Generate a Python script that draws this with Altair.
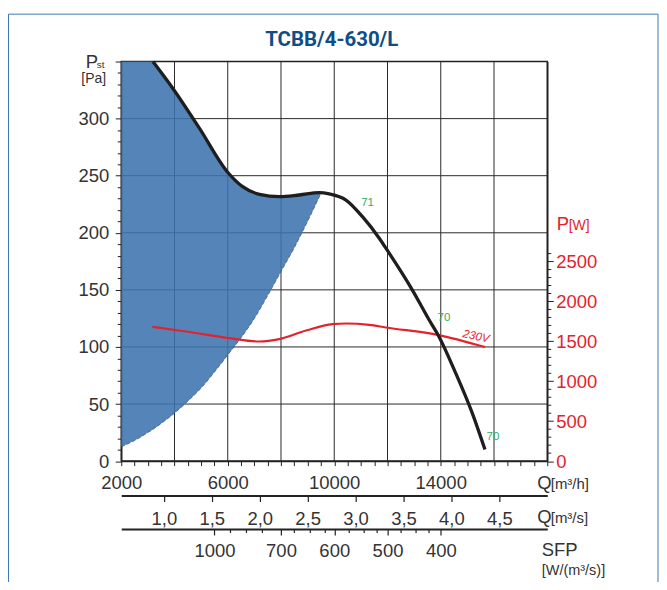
import altair as alt
import pandas as pd

# ---------------- data ----------------
# operating area (blue): Q [m3/h], upper and lower pressure bounds [Pa]
area_q = [2000, 2500, 3000, 3200, 3500, 4000, 4500, 5000, 5500, 6000, 6500, 7000, 7500, 8000, 8500, 9000, 9500]
area_top = [350, 350, 350, 350, 340.3, 324.5, 306.8, 289.5, 271, 252.8, 241.8, 235.7, 232.7, 231.6, 232.6, 234.2, 235]
area_bottom = [12.5, 18, 25, 28, 33, 42, 52.5, 64, 78, 93, 108, 125, 145, 166, 187, 210, 234.6]

# fan curve (black): Q [m3/h] -> static pressure [Pa]
fan_q = [3190, 3940, 4940, 5980, 6560, 7190, 7940, 8690, 9440, 9810, 10440, 11060, 11690, 11940,
         12930, 13560, 13930, 14560, 15180, 15660]
fan_p = [350, 326.4, 291.4, 253.5, 240.4, 233.7, 231.6, 233.1, 235.1, 234.0, 228.7, 214.1, 195.2, 186.5,
         150, 123.8, 109.2, 77.1, 42.2, 10.1]

# power curve (red): Q [m3/h] -> P [W]
pow_q = [3170, 4440, 6070, 7190, 7940, 8940, 9940, 10440, 11310, 11940, 13930, 15660]
pow_w = [1680, 1622, 1539, 1497, 1527, 1634, 1714, 1722, 1705, 1672, 1577, 1427]

# green sound labels on the fan curve
snd_text = ["71", "70", "70"]
snd_q = [11250, 14120, 15960]
snd_p = [225.8, 125.5, 21.4]

# voltage label on the power curve
volt_text = ["230V"]
volt_q = [15320]
volt_w = [1555]

# grid
grid_q = [4000, 6000, 8000, 10000, 12000, 14000, 16000]
grid_p = [50, 100, 150, 200, 250, 300]

# axes
q_ticks = list(range(2000, 18001, 500))
qs_values = [1.0, 1.5, 2.0, 2.5, 3.0, 3.5, 4.0, 4.5]          # m3/s
sfp_major_q = [5500, 8000, 10000, 12000, 14000]
sfp_major_lab = ["1000", "700", "600", "500", "400"]
sfp_minor_q = [6100, 6700, 7300, 8500, 9100, 9630, 10560, 11090, 11575, 12500, 13040, 13530]
p_ticks = list(range(0, 351, 10))
w_ticks = list(range(0, 2601, 100))

TITLE = "TCBB/4-630/L"

# ---------------- styling ----------------
FONT = "Liberation Sans"
TITLE_FONT = "Roboto, 'Liberation Sans', sans-serif"
DARK = "#333333"
RED = "#e3232b"
GREEN = "#2fae60"
BLUE_FILL = "#3e73ae"
TITLE_BLUE = "#0f4d87"
LINE_BLACK = "#1e1e1e"

X0 = 121.5   # page x of plot left
Y0 = 61.0    # page y of plot top

xscale = alt.Scale(domain=[2000, 18000], nice=False, zero=False)
yscale = alt.Scale(domain=[0, 350], nice=False, zero=True)
wscale = alt.Scale(domain=[0, 5000], nice=False, zero=True)

axis_common = dict(labelFont=FONT, labelFontSize=18.5, labelOverlap=False, labelFlush=False,
                   labelBound=False, grid=False, tickColor="#222", domainColor="#222", title=None)

axis_q = alt.Axis(orient="bottom", values=q_ticks, tickSize=4.5, domainWidth=1.5, labelPadding=8,
                  labelColor=DARK,
                  labelExpr="(datum.value - 2000) % 4000 == 0 && datum.value <= 14000 ? format(datum.value, 'd') : ''",
                  **axis_common)

axis_qs = alt.Axis(orient="bottom", offset=34.5, values=[v * 3600 for v in qs_values], tickSize=6,
                   domainWidth=2, tickWidth=1.2, labelPadding=8, labelColor=DARK,
                   labelExpr="replace(format(datum.value / 3600, '.1f'), '.', ',')",
                   **axis_common)

sfp_expr = " : ".join(f"datum.value == {q} ? '{l}'" for q, l in zip(sfp_major_q, sfp_major_lab)) + " : ''"
sfp_test = "indexof([" + ",".join(str(q) for q in sfp_major_q) + "], datum.value) >= 0"
axis_sfp = alt.Axis(orient="bottom", offset=68, values=sorted(sfp_major_q + sfp_minor_q),
                    tickSize={"condition": {"test": sfp_test, "value": 6}, "value": 3.5},
                    domainWidth=2, tickWidth=1.2, labelPadding=7, labelColor=DARK,
                    labelExpr=sfp_expr, **axis_common)

axis_p = alt.Axis(orient="left", values=p_ticks,
                  tickSize={"condition": {"test": "datum.value % 50 == 0", "value": 6}, "value": 4},
                  domainWidth=1.5, labelPadding=6.5, labelColor=DARK,
                  labelExpr="datum.value % 50 == 0 && datum.value <= 300 ? datum.value : ''",
                  **axis_common)

axis_w = alt.Axis(orient="right", values=w_ticks,
                  tickSize={"condition": {"test": "datum.value % 500 == 0", "value": 6}, "value": 3.5},
                  domainWidth=1.5, labelPadding=2.5, labelColor=RED,
                  labelExpr="datum.value % 500 == 0 ? datum.value : ''",
                  **axis_common)

# ---------------- layers ----------------
df_area = pd.DataFrame({"q": area_q, "top": area_top, "bottom": area_bottom})
df_fan = pd.DataFrame({"q": fan_q, "p": fan_p})
df_pow = pd.DataFrame({"q": pow_q, "w": pow_w})
df_snd = pd.DataFrame({"q": snd_q, "p": snd_p, "t": snd_text})
df_volt = pd.DataFrame({"q": volt_q, "w": volt_w, "t": volt_text})
df_gq = pd.DataFrame({"q": grid_q})
df_gp = pd.DataFrame({"p": grid_p})
one = pd.DataFrame({"a": [0]})

grid_v = alt.Chart(df_gq).mark_rule(color="#2a2a2a", strokeWidth=1).encode(
    x=alt.X("q:Q", scale=xscale, axis=axis_qs))
grid_h = alt.Chart(df_gp).mark_rule(color="#2a2a2a", strokeWidth=1).encode(
    y=alt.Y("p:Q", scale=yscale, axis=axis_p))

area = alt.Chart(df_area).mark_area(color=BLUE_FILL, opacity=0.88, interpolate="monotone").encode(
    x=alt.X("q:Q", scale=xscale, axis=axis_q),
    y=alt.Y("top:Q", scale=yscale, axis=None),
    y2="bottom:Q")

edge = alt.Chart(df_area).mark_line(color="#27466b", strokeWidth=0.8, strokeDash=[4, 2],
                                    interpolate="monotone", opacity=0.8).encode(
    x=alt.X("q:Q", scale=xscale, axis=None),
    y=alt.Y("bottom:Q", scale=yscale, axis=None))

power = alt.Chart(df_pow).mark_line(color=RED, strokeWidth=2.2, interpolate="monotone").encode(
    x=alt.X("q:Q", scale=xscale, axis=axis_sfp),
    y=alt.Y("w:Q", scale=wscale, axis=axis_w))

fan = alt.Chart(df_fan).mark_line(color=LINE_BLACK, strokeWidth=3.3, interpolate="monotone",
                                  strokeCap="butt").encode(
    x=alt.X("q:Q", scale=xscale, axis=None),
    y=alt.Y("p:Q", scale=yscale, axis=None))

snd = alt.Chart(df_snd).mark_text(color=GREEN, font=FONT, fontSize=11.5).encode(
    x=alt.X("q:Q", scale=xscale, axis=None),
    y=alt.Y("p:Q", scale=yscale, axis=None),
    text="t:N")

volt = alt.Chart(df_volt).mark_text(color=RED, font=FONT, fontSize=11.5, fontStyle="italic",
                                    angle=12).encode(
    x=alt.X("q:Q", scale=xscale, axis=None),
    y=alt.Y("w:Q", scale=wscale, axis=None),
    text="t:N")


def label(text, px, py, size, color=DARK, align="left", **kw):
    """Static text annotation at page pixel position (px, py = alphabetic baseline)."""
    return alt.Chart(one).mark_text(align=align, baseline="alphabetic", font=kw.pop("font", FONT),
                                    fontSize=size, color=color, **kw).encode(
        x=alt.value(px - X0), y=alt.value(py - Y0), text=alt.value(text))


annotations = [
    label(TITLE, 332.5, 45.5, 20.5, color=TITLE_BLUE, align="center",
          font=TITLE_FONT, fontWeight="bold"),
    label("P", 86, 67.5, 18.5),
    label("st", 97, 67, 10),
    label("[Pa]", 81.5, 83, 14),
    label("P", 558, 230, 18.5, color=RED),
    label("[W]", 570, 229.5, 14, color=RED),
    label("Q", 538.5, 489, 18.5),
    label("[m³/h]", 552, 489, 15),
    label("Q", 538.5, 524, 18.5),
    label("[m³/s]", 552, 524, 15),
    label("SFP", 543, 556.5, 18.5),
    label("[W/(m³/s)]", 543, 576, 14.5),
]

border = alt.Chart(one).mark_rect(fill="transparent", stroke="#3b78b5", strokeWidth=1).encode(
    x=alt.value(8.5 - X0), x2=alt.value(659.5 - X0), y=alt.value(13.5 - Y0), y2=alt.value(640))

chart = alt.layer(grid_v, grid_h, area, edge, power, fan, snd, volt, *annotations, border).resolve_scale(
    x="independent", y="independent"
).properties(
    width=427, height=400.5,
    autosize=alt.AutoSizeParams(type="none"),
    padding={"left": 113.5, "top": 53, "right": 112, "bottom": 120},
    background="white",
).configure_view(stroke="#222", strokeWidth=1.5)

chart.save("out.html", embed_options={"renderer": "svg", "actions": False})
